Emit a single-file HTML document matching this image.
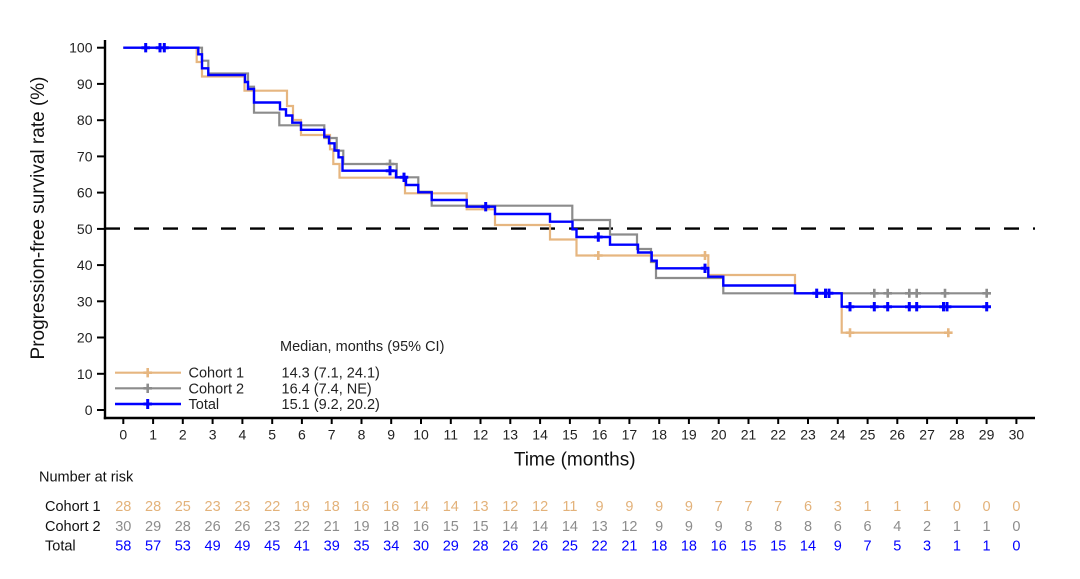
<!DOCTYPE html>
<html><head><meta charset="utf-8"><style>
html,body{margin:0;padding:0;background:#fff;}
svg{display:block;font-family:"Liberation Sans",Arial,sans-serif;}
</style></head><body>
<svg width="1080" height="579" viewBox="0 0 1080 579" xmlns="http://www.w3.org/2000/svg">
<rect width="1080" height="579" fill="#fff"/>
<line x1="105" y1="228.6" x2="1035" y2="228.6" stroke="#000" stroke-width="2.4" stroke-dasharray="15 14"/>
<g fill="none" stroke-linejoin="miter">
<path d="M123.3,47.7 H196.7 V62 H202 V76.5 H244.5 V90.7 H287 V106 H293 V120 H301 V135 H330 V149.3 H333.3 V164 H339.5 V177.7 H405 V193.3 H466.7 V209.3 H495 V225 H550 V239.5 H576.5 V255.5 H708.3 V275 H795 V293.3 H841.7 V332.7 H951.7" stroke="#E6B680" stroke-width="2.2"/>
<path d="M123.3,47.7 H202 V60.7 H208.3 V73.5 H248 V86.7 H254 V112.7 H279.3 V125.3 H324.3 V138 H336.7 V150.7 H343.3 V164 H396.7 V177.3 H418.3 V191.7 H431.7 V205.7 H572.3 V220 H610 V234.5 H637 V249 H651 V262 H656 V278 H723.3 V293.3 H990" stroke="#8C8C8C" stroke-width="2.2"/>
<path d="M123.3,47.7 H198.3 V54.3 H202 V68.3 H208.3 V75 H245 V82 H248 V89 H254 V102.5 H280 V109.3 H286 V115.5 H292.3 V122.7 H301 V129.8 H324.3 V136.7 H329 V143.3 H334.5 V150.5 H338.5 V157.3 H342.5 V170.7 H396 V177.3 H406 V185 H418.3 V192.3 H431.7 V200 H466.7 V206.7 H495 V214 H550 V221.7 H572.5 V229.3 H576.5 V237 H610 V244.7 H638 V252.5 H651.7 V260.7 H656.7 V268.3 H708.3 V276.7 H723.3 V285.5 H795 V293.3 H841.7 V306.7 H990" stroke="#0000FF" stroke-width="2.4"/>
</g>
<!-- censor marks (+) -->
<g stroke="#E6B680" stroke-width="2.6" fill="none">
<path d="M598.3,251 v9 M594,255.5 h8.6 M705,251 v9 M700.7,255.5 h8.6 M850,328.2 v9 M845.7,332.7 h8.6 M948.3,328.2 v9 M944,332.7 h8.6"/>
</g>
<g stroke="#8C8C8C" stroke-width="2.6" fill="none">
<path d="M390,159.5 v9 M385.7,164 h8.6 M874.3,288.8 v9 M870,293.3 h8.6 M887.7,288.8 v9 M883.4,293.3 h8.6 M909.3,288.8 v9 M905,293.3 h8.6 M916.7,288.8 v9 M912.4,293.3 h8.6 M945,288.8 v9 M940.7,293.3 h8.6 M986.7,288.8 v9 M982.4,293.3 h8.6"/>
</g>
<g stroke="#0000FF" stroke-width="3" fill="none">
<path d="M145.7,43 v9.4 M141.4,47.7 h8.6 M160,43 v9.4 M164.3,43 v9.4 M155.7,47.7 h13 M390,166 v9.4 M385.7,170.7 h8.6 M404,172.6 v9.4 M399.7,177.3 h8.6 M485.7,202 v9.4 M481.4,206.7 h8.6 M598.3,232.3 v9.4 M594,237 h8.6 M705,263.6 v9.4 M700.7,268.3 h8.6 M816.7,288.6 v9.4 M812.4,293.3 h8.6 M825.5,288.6 v9.4 M829,288.6 v9.4 M821.2,293.3 h12.2 M850,302 v9.4 M845.7,306.7 h8.6 M874.3,302 v9.4 M870,306.7 h8.6 M887.7,302 v9.4 M883.4,306.7 h8.6 M909.3,302 v9.4 M905,306.7 h8.6 M916.7,302 v9.4 M912.4,306.7 h8.6 M943.5,302 v9.4 M947,302 v9.4 M939.2,306.7 h12.2 M986.7,302 v9.4 M982.4,306.7 h8.6"/>
</g>
<g stroke="#000" stroke-width="2.4">
<line x1="105" y1="40" x2="105" y2="419.2"/>
<line x1="103.8" y1="418" x2="1035" y2="418"/>
</g>
<g stroke="#000" stroke-width="2">
<line x1="97" y1="47.7" x2="105" y2="47.7"/>
<line x1="97" y1="83.9" x2="105" y2="83.9"/>
<line x1="97" y1="120.2" x2="105" y2="120.2"/>
<line x1="97" y1="156.4" x2="105" y2="156.4"/>
<line x1="97" y1="192.6" x2="105" y2="192.6"/>
<line x1="97" y1="228.9" x2="105" y2="228.9"/>
<line x1="97" y1="265.1" x2="105" y2="265.1"/>
<line x1="97" y1="301.3" x2="105" y2="301.3"/>
<line x1="97" y1="337.5" x2="105" y2="337.5"/>
<line x1="97" y1="373.8" x2="105" y2="373.8"/>
<line x1="97" y1="410" x2="105" y2="410"/>
</g>
<g fill="#222" font-size="14" text-anchor="end">
<text x="92.5" y="52.7">100</text>
<text x="92.5" y="88.9">90</text>
<text x="92.5" y="125.2">80</text>
<text x="92.5" y="161.4">70</text>
<text x="92.5" y="197.6">60</text>
<text x="92.5" y="233.9">50</text>
<text x="92.5" y="270.1">40</text>
<text x="92.5" y="306.3">30</text>
<text x="92.5" y="342.5">20</text>
<text x="92.5" y="378.8">10</text>
<text x="92.5" y="415">0</text>
</g>
<g stroke="#000" stroke-width="2">
<line x1="123.3" y1="418" x2="123.3" y2="424"/><line x1="153.1" y1="418" x2="153.1" y2="424"/><line x1="182.8" y1="418" x2="182.8" y2="424"/><line x1="212.6" y1="418" x2="212.6" y2="424"/><line x1="242.4" y1="418" x2="242.4" y2="424"/><line x1="272.2" y1="418" x2="272.2" y2="424"/><line x1="301.9" y1="418" x2="301.9" y2="424"/><line x1="331.7" y1="418" x2="331.7" y2="424"/><line x1="361.5" y1="418" x2="361.5" y2="424"/><line x1="391.2" y1="418" x2="391.2" y2="424"/><line x1="421" y1="418" x2="421" y2="424"/><line x1="450.8" y1="418" x2="450.8" y2="424"/><line x1="480.5" y1="418" x2="480.5" y2="424"/><line x1="510.3" y1="418" x2="510.3" y2="424"/><line x1="540.1" y1="418" x2="540.1" y2="424"/><line x1="569.9" y1="418" x2="569.9" y2="424"/><line x1="599.6" y1="418" x2="599.6" y2="424"/><line x1="629.4" y1="418" x2="629.4" y2="424"/><line x1="659.2" y1="418" x2="659.2" y2="424"/><line x1="688.9" y1="418" x2="688.9" y2="424"/><line x1="718.7" y1="418" x2="718.7" y2="424"/><line x1="748.5" y1="418" x2="748.5" y2="424"/><line x1="778.2" y1="418" x2="778.2" y2="424"/><line x1="808" y1="418" x2="808" y2="424"/><line x1="837.8" y1="418" x2="837.8" y2="424"/><line x1="867.6" y1="418" x2="867.6" y2="424"/><line x1="897.3" y1="418" x2="897.3" y2="424"/><line x1="927.1" y1="418" x2="927.1" y2="424"/><line x1="956.9" y1="418" x2="956.9" y2="424"/><line x1="986.6" y1="418" x2="986.6" y2="424"/><line x1="1016.4" y1="418" x2="1016.4" y2="424"/>
</g>
<g fill="#222" font-size="14" text-anchor="middle">
<text x="123.3" y="439.3">0</text><text x="153.1" y="439.3">1</text><text x="182.8" y="439.3">2</text><text x="212.6" y="439.3">3</text><text x="242.4" y="439.3">4</text><text x="272.2" y="439.3">5</text><text x="301.9" y="439.3">6</text><text x="331.7" y="439.3">7</text><text x="361.5" y="439.3">8</text><text x="391.2" y="439.3">9</text><text x="421" y="439.3">10</text><text x="450.8" y="439.3">11</text><text x="480.5" y="439.3">12</text><text x="510.3" y="439.3">13</text><text x="540.1" y="439.3">14</text><text x="569.9" y="439.3">15</text><text x="599.6" y="439.3">16</text><text x="629.4" y="439.3">17</text><text x="659.2" y="439.3">18</text><text x="688.9" y="439.3">19</text><text x="718.7" y="439.3">20</text><text x="748.5" y="439.3">21</text><text x="778.2" y="439.3">22</text><text x="808" y="439.3">23</text><text x="837.8" y="439.3">24</text><text x="867.6" y="439.3">25</text><text x="897.3" y="439.3">26</text><text x="927.1" y="439.3">27</text><text x="956.9" y="439.3">28</text><text x="986.6" y="439.3">29</text><text x="1016.4" y="439.3">30</text>
</g>
<text x="574.7" y="465.3" font-size="19" fill="#111" text-anchor="middle">Time (months)</text>
<text transform="translate(44,218) rotate(-90)" font-size="19" fill="#111" text-anchor="middle">Progression-free survival rate (%)</text>
<text x="280" y="351" font-size="14.5" fill="#222">Median, months (95% CI)</text>
<g stroke-width="2.2" fill="none">
<line x1="115" y1="372.7" x2="181" y2="372.7" stroke="#E6B680"/>
<path d="M147.7,368 v9.4 M143.4,372.7 h8.6" stroke="#E6B680" stroke-width="2.6"/>
<line x1="115" y1="388.3" x2="181" y2="388.3" stroke="#8C8C8C"/>
<path d="M147.7,383.6 v9.4 M143.4,388.3 h8.6" stroke="#8C8C8C" stroke-width="2.6"/>
<line x1="115" y1="404" x2="181" y2="404" stroke="#0000FF" stroke-width="2.4"/>
<path d="M147.7,399 v10 M143.4,404 h8.6" stroke="#0000FF" stroke-width="3"/>
</g>
<g font-size="14.5" fill="#222">
<text x="188.5" y="377.7">Cohort 1</text>
<text x="188.5" y="393.3">Cohort 2</text>
<text x="188.5" y="409">Total</text>
<text x="281.5" y="377.7">14.3 (7.1, 24.1)</text>
<text x="281.5" y="393.3">16.4 (7.4, NE)</text>
<text x="281.5" y="409">15.1 (9.2, 20.2)</text>
</g>
<text x="39" y="481.3" font-size="14.5" fill="#111">Number at risk</text>
<g font-size="14.5" fill="#111">
<text x="45" y="511">Cohort 1</text>
<text x="45" y="530.8">Cohort 2</text>
<text x="45" y="550.5">Total</text>
</g>
<g font-size="14.5" text-anchor="middle" fill="#E3B27A">
<text x="123.3" y="511">28</text><text x="153.1" y="511">28</text><text x="182.8" y="511">25</text><text x="212.6" y="511">23</text><text x="242.4" y="511">23</text><text x="272.2" y="511">22</text><text x="301.9" y="511">19</text><text x="331.7" y="511">18</text><text x="361.5" y="511">16</text><text x="391.2" y="511">16</text><text x="421" y="511">14</text><text x="450.8" y="511">14</text><text x="480.5" y="511">13</text><text x="510.3" y="511">12</text><text x="540.1" y="511">12</text><text x="569.9" y="511">11</text><text x="599.6" y="511">9</text><text x="629.4" y="511">9</text><text x="659.2" y="511">9</text><text x="688.9" y="511">9</text><text x="718.7" y="511">7</text><text x="748.5" y="511">7</text><text x="778.2" y="511">7</text><text x="808" y="511">6</text><text x="837.8" y="511">3</text><text x="867.6" y="511">1</text><text x="897.3" y="511">1</text><text x="927.1" y="511">1</text><text x="956.9" y="511">0</text><text x="986.6" y="511">0</text><text x="1016.4" y="511">0</text>
</g>
<g font-size="14.5" text-anchor="middle" fill="#8C8C8C">
<text x="123.3" y="530.8">30</text><text x="153.1" y="530.8">29</text><text x="182.8" y="530.8">28</text><text x="212.6" y="530.8">26</text><text x="242.4" y="530.8">26</text><text x="272.2" y="530.8">23</text><text x="301.9" y="530.8">22</text><text x="331.7" y="530.8">21</text><text x="361.5" y="530.8">19</text><text x="391.2" y="530.8">18</text><text x="421" y="530.8">16</text><text x="450.8" y="530.8">15</text><text x="480.5" y="530.8">15</text><text x="510.3" y="530.8">14</text><text x="540.1" y="530.8">14</text><text x="569.9" y="530.8">14</text><text x="599.6" y="530.8">13</text><text x="629.4" y="530.8">12</text><text x="659.2" y="530.8">9</text><text x="688.9" y="530.8">9</text><text x="718.7" y="530.8">9</text><text x="748.5" y="530.8">8</text><text x="778.2" y="530.8">8</text><text x="808" y="530.8">8</text><text x="837.8" y="530.8">6</text><text x="867.6" y="530.8">6</text><text x="897.3" y="530.8">4</text><text x="927.1" y="530.8">2</text><text x="956.9" y="530.8">1</text><text x="986.6" y="530.8">1</text><text x="1016.4" y="530.8">0</text>
</g>
<g font-size="14.5" text-anchor="middle" fill="#0000FF">
<text x="123.3" y="550.5">58</text><text x="153.1" y="550.5">57</text><text x="182.8" y="550.5">53</text><text x="212.6" y="550.5">49</text><text x="242.4" y="550.5">49</text><text x="272.2" y="550.5">45</text><text x="301.9" y="550.5">41</text><text x="331.7" y="550.5">39</text><text x="361.5" y="550.5">35</text><text x="391.2" y="550.5">34</text><text x="421" y="550.5">30</text><text x="450.8" y="550.5">29</text><text x="480.5" y="550.5">28</text><text x="510.3" y="550.5">26</text><text x="540.1" y="550.5">26</text><text x="569.9" y="550.5">25</text><text x="599.6" y="550.5">22</text><text x="629.4" y="550.5">21</text><text x="659.2" y="550.5">18</text><text x="688.9" y="550.5">18</text><text x="718.7" y="550.5">16</text><text x="748.5" y="550.5">15</text><text x="778.2" y="550.5">15</text><text x="808" y="550.5">14</text><text x="837.8" y="550.5">9</text><text x="867.6" y="550.5">7</text><text x="897.3" y="550.5">5</text><text x="927.1" y="550.5">3</text><text x="956.9" y="550.5">1</text><text x="986.6" y="550.5">1</text><text x="1016.4" y="550.5">0</text>
</g>
</svg>
</body></html>
